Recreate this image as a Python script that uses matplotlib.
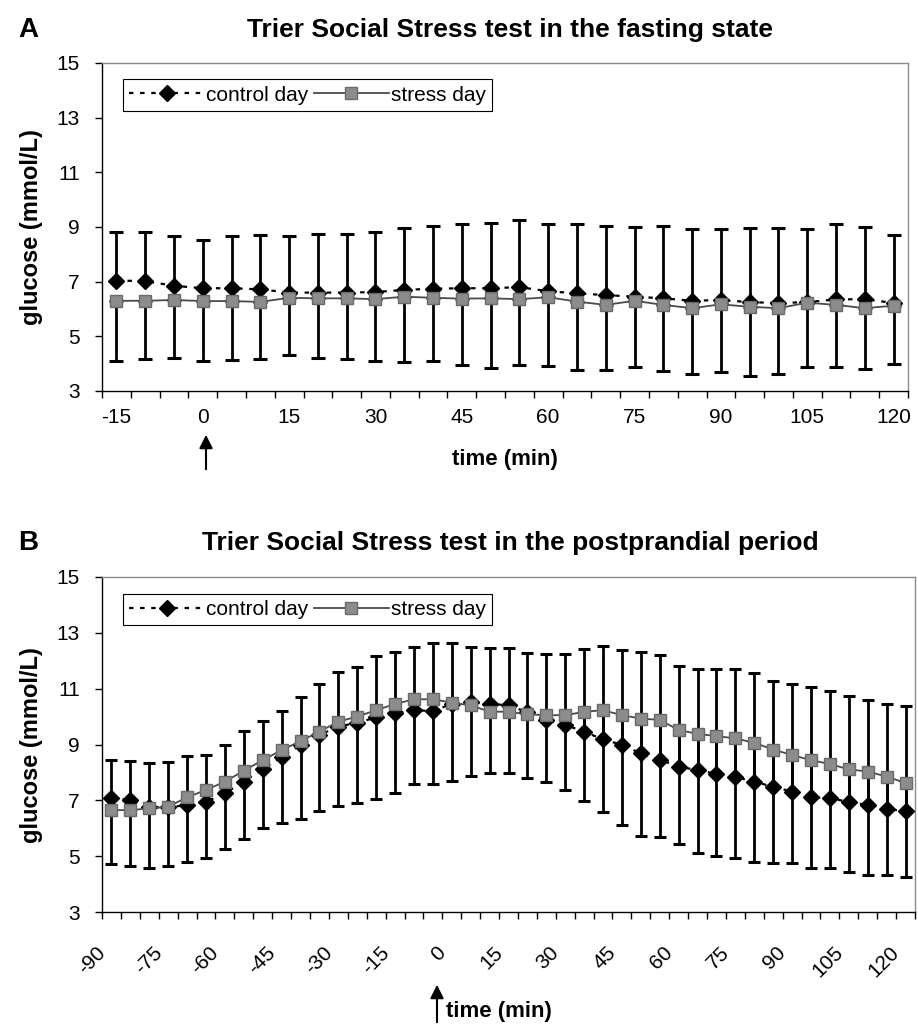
import matplotlib
matplotlib.use("Agg")
import matplotlib.pyplot as plt
import numpy as np
from matplotlib.lines import Line2D
from matplotlib.patches import FancyArrowPatch
from matplotlib.transforms import ScaledTranslation

plt.rcParams['font.family'] = ['Liberation Sans', 'DejaVu Sans']

# ---- panel A : fasting state ----
times_a = [-15, -10, -5, 0, 5, 10, 15, 20, 25, 30, 35, 40, 45, 50,
           55, 60, 65, 70, 75, 80, 85, 90, 95, 100, 105, 110, 115, 120]
control_a = [7.04, 7.02, 6.85, 6.76, 6.76, 6.72, 6.60, 6.60, 6.60, 6.62, 6.70, 6.74, 6.76, 6.76,
             6.80, 6.65, 6.57, 6.51, 6.45, 6.39, 6.30, 6.33, 6.25, 6.22, 6.25, 6.35, 6.36, 6.22]
stress_a = [6.30, 6.30, 6.33, 6.29, 6.29, 6.26, 6.41, 6.39, 6.39, 6.36, 6.45, 6.41, 6.38, 6.39,
            6.36, 6.43, 6.27, 6.15, 6.30, 6.15, 6.03, 6.17, 6.08, 6.03, 6.23, 6.15, 6.03, 6.12]
upper_a = [8.83, 8.83, 8.67, 8.52, 8.67, 8.71, 8.67, 8.73, 8.73, 8.83, 8.95, 9.04, 9.11, 9.16,
           9.26, 9.11, 9.11, 9.04, 9.01, 9.04, 8.92, 8.94, 8.96, 8.95, 8.92, 9.11, 8.99, 8.71]
lower_a = [4.10, 4.18, 4.21, 4.09, 4.13, 4.18, 4.31, 4.21, 4.16, 4.09, 4.06, 4.09, 3.95, 3.85,
           3.95, 3.91, 3.77, 3.77, 3.89, 3.74, 3.62, 3.71, 3.56, 3.62, 3.89, 3.87, 3.82, 3.98]

# ---- panel B : postprandial period ----
times_b = [-90, -85, -80, -75, -70, -65, -60, -55, -50, -45, -40, -35, -30, -25, -20, -15, -10, -5,
           0, 5, 10, 15, 20, 25, 30, 35, 40, 45, 50, 55, 60, 65, 70, 75, 80, 85, 90, 95, 100,
           105, 110, 115, 120]
control_b = [7.08, 7.01, 6.75, 6.75, 6.83, 6.95, 7.25, 7.67, 8.12, 8.56, 8.98, 9.34, 9.64, 9.78,
             9.97, 10.12, 10.23, 10.20, 10.45, 10.53, 10.45, 10.41, 10.15, 9.88, 9.70, 9.46, 9.18,
             8.99, 8.68, 8.45, 8.21, 8.08, 7.95, 7.84, 7.66, 7.49, 7.31, 7.11, 7.07, 6.95, 6.83,
             6.68, 6.62]
stress_b = [6.65, 6.65, 6.71, 6.77, 7.11, 7.37, 7.67, 8.06, 8.44, 8.80, 9.12, 9.46, 9.82, 10.00,
            10.23, 10.45, 10.62, 10.62, 10.50, 10.40, 10.18, 10.17, 10.08, 10.05, 10.05, 10.17,
            10.23, 10.05, 9.93, 9.88, 9.52, 9.38, 9.30, 9.22, 9.06, 8.82, 8.62, 8.44, 8.30, 8.11,
            8.03, 7.85, 7.62]
upper_b = [8.44, 8.42, 8.33, 8.39, 8.59, 8.62, 8.99, 9.49, 9.85, 10.20, 10.69, 11.16, 11.59, 11.79,
           12.17, 12.33, 12.48, 12.62, 12.62, 12.51, 12.47, 12.47, 12.29, 12.24, 12.23, 12.41,
           12.53, 12.38, 12.33, 12.20, 11.81, 11.69, 11.70, 11.69, 11.55, 11.27, 11.16, 11.07,
           10.93, 10.74, 10.59, 10.45, 10.38]
lower_b = [4.72, 4.65, 4.56, 4.65, 4.80, 4.92, 5.25, 5.61, 6.00, 6.18, 6.32, 6.62, 6.81, 6.92,
           7.04, 7.27, 7.57, 7.57, 7.69, 7.87, 7.99, 7.99, 7.81, 7.67, 7.37, 6.98, 6.59, 6.12,
           5.72, 5.70, 5.42, 5.10, 5.02, 4.92, 4.80, 4.74, 4.74, 4.59, 4.59, 4.44, 4.33, 4.33, 4.27]

W, H = 918, 1025
fig = plt.figure(figsize=(W / 100, H / 100), dpi=100)
fig.patch.set_facecolor('white')


def px(x, y):
    return (x / W, 1 - y / H)


def draw_panel(ax, times, control, stress, upper, lower, capsize):
    x = np.arange(len(times))
    control = np.array(control)
    stress = np.array(stress)
    # control day carries the upper bar, stress day the lower one
    ax.errorbar(x, control, yerr=[np.zeros(len(x)), np.array(upper) - control], fmt='none',
                ecolor='black', elinewidth=2, capsize=capsize, capthick=2.2, zorder=2)
    ax.errorbar(x, stress, yerr=[stress - np.array(lower), np.zeros(len(x))], fmt='none',
                ecolor='black', elinewidth=2, capsize=capsize, capthick=2.2, zorder=2)
    ax.plot(x, control, color='black', ls=(0, (2, 3)), lw=1.6, marker='D', ms=8,
            mfc='black', mec='black', zorder=3)
    ax.plot(x, stress, color='#4a4a4a', lw=1.3, marker='s', ms=9,
            mfc='#8c8c8c', mec='#6a6a6a', zorder=4)

    n = len(times)
    ax.set_xlim(-0.5, n - 0.5)
    ax.set_ylim(3, 15)
    ax.set_yticks(range(3, 16, 2))
    ax.set_xticks(np.arange(n + 1) - 0.5)
    ax.set_xticklabels([])
    idx = list(range(0, n, 3))
    ax.set_xticks(idx, minor=True)
    ax.set_xticklabels([str(times[i]) for i in idx], minor=True)
    ax.tick_params(axis='x', which='major', length=5, width=1, direction='out')
    ax.tick_params(axis='x', which='minor', length=0, labelsize=15)
    ax.tick_params(axis='y', length=5, width=1, labelsize=15, pad=11)
    for side in ['top', 'right']:
        ax.spines[side].set_color('#8a8a8a')
        ax.spines[side].set_linewidth(1)
    for side in ['left', 'bottom']:
        ax.spines[side].set_color('black')
        ax.spines[side].set_linewidth(1)

    handles = [
        Line2D([], [], color='black', ls=(0, (2, 3)), lw=1.6, marker='D', ms=8),
        Line2D([], [], color='#4a4a4a', lw=1.3, marker='s', ms=9, mfc='#8c8c8c', mec='#6a6a6a'),
    ]
    leg = ax.legend(handles, ['control day', 'stress day'], loc='upper left',
                    bbox_to_anchor=(0.026, 0.95), borderaxespad=0, ncol=2, fontsize=15,
                    handlelength=3.6, handletextpad=0.1, columnspacing=0.25, borderpad=0.3,
                    fancybox=False, framealpha=1, edgecolor='black')
    leg.get_frame().set_linewidth(0.8)


# panel A
axA = fig.add_axes([102 / W, 1 - 391 / H, 806 / W, 328 / H])
draw_panel(axA, times_a, control_a, stress_a, upper_a, lower_a, capsize=5)
axA.tick_params(axis='x', which='minor', pad=12)

# panel B
axB = fig.add_axes([102 / W, 1 - 912 / H, 813 / W, 335 / H])
draw_panel(axB, times_b, control_b, stress_b, upper_b, lower_b, capsize=4)
axB.tick_params(axis='x', which='minor', pad=27)
for lab in axB.get_xticklabels(minor=True):
    lab.set_rotation(45)
    lab.set_ha('right')
    lab.set_va('center')
    lab.set_rotation_mode('anchor')
    lab.set_transform(lab.get_transform() + ScaledTranslation(-0.09, 0, fig.dpi_scale_trans))

# titles and labels
fig.text(*px(18, 30), 'A', fontsize=20, weight='bold', ha='left', va='center')
fig.text(*px(510, 30), 'Trier Social Stress test in the fasting state',
         fontsize=19, weight='bold', ha='center', va='center')
fig.text(*px(18, 543), 'B', fontsize=20, weight='bold', ha='left', va='center')
fig.text(*px(510, 543), 'Trier Social Stress test in the postprandial period',
         fontsize=19, weight='bold', ha='center', va='center')

fig.text(*px(32, 227), 'glucose (mmol/L)', fontsize=17, weight='bold',
         rotation=90, ha='center', va='center')
fig.text(*px(32, 745), 'glucose (mmol/L)', fontsize=17, weight='bold',
         rotation=90, ha='center', va='center')

fig.text(*px(505, 460), 'time (min)', fontsize=16, weight='bold', ha='center', va='center')
fig.text(*px(446, 1012), 'time (min)', fontsize=16, weight='bold', ha='left', va='center')

# arrows marking stress onset
for (x0, y0, y1) in [(206, 472, 432), (437, 1025, 982)]:
    arr = FancyArrowPatch(px(x0, y0), px(x0, y1), transform=fig.transFigure,
                          arrowstyle='-|>', mutation_scale=20, lw=1.5, color='black')
    fig.add_artist(arr)

fig.savefig('out.png', dpi=100)
